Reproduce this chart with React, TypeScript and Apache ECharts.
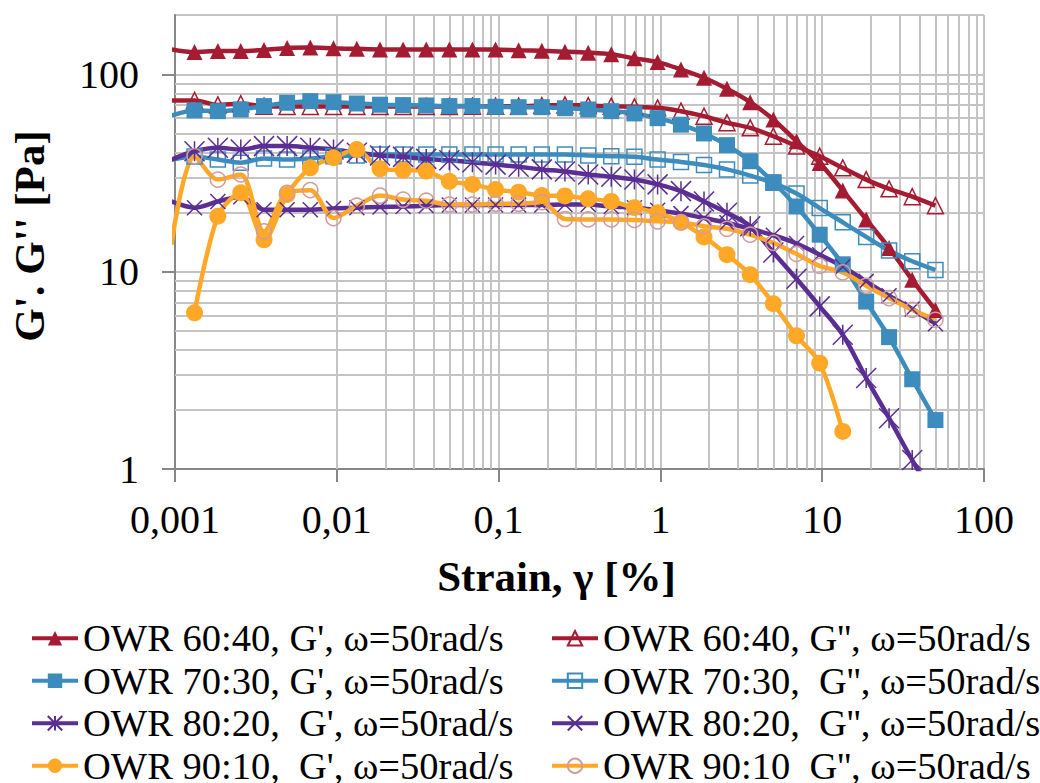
import React, { useEffect, useRef } from 'react';
import * as echarts from 'echarts';

// Strain [%] sampling points (first one lies just left of the axis minimum)
const strain = [0.00095, 0.00132, 0.00184, 0.00255, 0.00355, 0.00493, 0.00686, 0.00954, 0.0133, 0.0185, 0.0257, 0.0357, 0.0496, 0.0689, 0.0958, 0.133, 0.185, 0.257, 0.358, 0.497, 0.691, 0.961, 1.34, 1.86, 2.58, 3.59, 4.99, 6.94, 9.65, 13.4, 18.7, 25.9, 36.0, 50.1];

const g1_6040 = [134, 129.8, 131.3, 131.3, 132.9, 136, 136.7, 135.5, 134.7, 133.9, 133.9, 133.9, 133.9, 133.9, 133.9, 132.4, 131.6, 130.4, 128.9, 126.4, 120.6, 115.4, 106, 96.2, 84.5, 72.3, 59.1, 45.8, 35.6, 25.8, 18.4, 13.2, 9.1, 6.4];
const g2_6040 = [73.8, 73.8, 70, 71, 69, 68.8, 68.8, 68.8, 68.8, 68.8, 68.8, 68.8, 68.8, 69, 69, 69, 69.5, 70, 69.5, 69, 68.5, 67.7, 65.1, 61.4, 56.9, 53.6, 48.6, 43.3, 38.5, 33.6, 29.3, 26.3, 24, 21.6];
const g1_7030 = [61.9, 65.7, 65.1, 66.4, 69.1, 71.8, 73.2, 72.3, 71.2, 70.2, 69.9, 69.6, 69.1, 69.1, 68.5, 68.2, 68.2, 67.4, 66.4, 65.1, 63.4, 60, 55.6, 50.2, 43.8, 36.3, 28.4, 21.4, 15.4, 10.9, 7.06, 4.66, 2.85, 1.77];
const g2_7030 = [37, 38.4, 37, 35.7, 37.5, 37, 37.5, 38.5, 38.8, 39.3, 39.3, 39.3, 39.3, 39.3, 39.3, 39.3, 39.3, 39.3, 38.8, 38.5, 38.2, 37, 36, 34.7, 33, 30.7, 28.2, 24.9, 21, 17.8, 15, 12.8, 11.3, 10.2];
const g1_8020 = [37, 40.8, 42.5, 41.6, 43.3, 43.3, 42.5, 41.6, 40.1, 38.8, 38.2, 37.3, 36.7, 35.9, 34.9, 34, 33, 32.2, 31.1, 30.3, 29.3, 27.7, 25.6, 22.7, 19.9, 17, 12.5, 9.2, 6.67, 4.79, 2.89, 1.81, 1.11, 0.7];
const g2_8020 = [22.7, 21.1, 22.7, 24, 20.6, 20.6, 20.6, 20.9, 21.1, 21.3, 21.4, 21.6, 21.8, 21.8, 21.8, 21.8, 21.8, 21.9, 21.9, 21.4, 21.1, 20.5, 19.7, 18.7, 17.7, 16.5, 15.3, 13.9, 12.2, 10.6, 8.93, 7.55, 6.47, 5.45];
const g1_9010 = [null, 6.19, 19.1, 25.1, 14.5, 24.6, 33.6, 37.8, 41.6, 33.2, 32.7, 32.3, 28.7, 27.7, 26.1, 25.3, 24.3, 24.2, 23.4, 22.7, 21.1, 19.9, 17.8, 15, 12.2, 9.66, 6.88, 4.73, 3.44, 1.55, null, null, null, null];
const g2_9010 = [13.7, 38.5, 29.3, 31.1, 16, 25.1, 25.9, 18.7, 21.6, 24.3, 23.2, 22.9, 21.9, 21.9, 22.1, 22.1, 22.5, 18.5, 18.4, 18.4, 18.3, 18, 17.8, 17, 16.5, 15.4, 14, 12.3, 10.7, 9.92, 8.49, 7.35, 6.41, 5.71];

const seriesNames = [
  "OWR 60:40, G', ω=50rad/s",
  "OWR 60:40, G'', ω=50rad/s",
  "OWR 70:30, G', ω=50rad/s",
  "OWR 70:30,  G'', ω=50rad/s",
  "OWR 80:20,  G', ω=50rad/s",
  "OWR 80:20,  G'', ω=50rad/s",
  "OWR 90:10,  G', ω=50rad/s",
  "OWR 90:10  G'', ω=50rad/s",
];

const xTickLabels = ['0,001', '0,01', '0,1', '1', '10', '100'];
const yTickLabels = ['1', '10', '100'];
const xGridValues = [0.002, 0.003, 0.004, 0.005, 0.006, 0.007, 0.008, 0.009, 0.02, 0.03, 0.04, 0.05, 0.06, 0.07, 0.08, 0.09, 0.2, 0.3, 0.4, 0.5, 0.6, 0.7, 0.8, 0.9, 2, 3, 4, 5, 6, 7, 8, 9, 20, 30, 40, 50, 60, 70, 80, 90];
const yGridValues = [2, 3, 4, 5, 6, 7, 8, 9, 20, 30, 40, 50, 60, 70, 80, 90];

const RED = '#A51C32';
const BLUE = '#3C8DBE';
const PURPLE = '#5B2E94';
const ORANGE = '#FFA828';
const PINK = '#D49A9A';
const GRID = '#C4C4C4';
const AXIS = '#878787';
const FONT = "'Liberation Serif', 'Times New Roman', serif";

const ASTERISK = 'path://M0,0L20,20M20,0L0,20M10,0L10,20';
const CROSS = 'path://M0,0L20,20M20,0L0,20';

function pairs(ys: (number | null)[]) {
  const out: number[][] = [];
  ys.forEach((y, i) => {
    if (y !== null) out.push([strain[i], y]);
  });
  return out;
}

function mk(name: string, ys: (number | null)[], symbol: string, size: number, color: string, itemStyle: any) {
  return {
    name,
    type: 'line',
    data: pairs(ys),
    symbol,
    symbolSize: size,
    smooth: 0.3,
    clip: true,
    z: 3,
    lineStyle: { color, width: 4.5 },
    itemStyle,
    emphasis: { disabled: true },
  };
}

export default function App() {
  const ref = useRef<HTMLDivElement>(null);
  useEffect(() => {
    if (!ref.current) return;
    const chart = echarts.init(ref.current, undefined, { renderer: 'svg' });
    const series: any[] = [
      {
        type: 'line',
        data: [[1, 1]],
        symbol: 'none',
        lineStyle: { width: 0 },
        silent: true,
        z: 1,
        markLine: {
          silent: true,
          z: 1,
          symbol: 'none',
          label: { show: false },
          lineStyle: { color: GRID, width: 2, type: 'solid' },
          emphasis: { disabled: true },
          data: [
            ...xGridValues.map((v) => ({ xAxis: v })),
            ...yGridValues.map((v) => ({ yAxis: v })),
          ],
        },
      },
      mk(seriesNames[0], g1_6040, 'triangle', 16, RED, { color: RED }),
      mk(seriesNames[1], g2_6040, 'triangle', 16, RED, { color: 'rgba(255,255,255,0)', borderColor: RED, borderWidth: 1.5 }),
      mk(seriesNames[2], g1_7030, 'rect', 16, BLUE, { color: BLUE }),
      mk(seriesNames[3], g2_7030, 'rect', 15, BLUE, { color: 'rgba(255,255,255,0)', borderColor: BLUE, borderWidth: 1.5 }),
      mk(seriesNames[4], g1_8020, ASTERISK, 20, PURPLE, { color: PURPLE, borderColor: PURPLE, borderWidth: 1.5 }),
      mk(seriesNames[5], g2_8020, CROSS, 15, PURPLE, { color: PURPLE, borderColor: PURPLE, borderWidth: 1.5 }),
      mk(seriesNames[6], g1_9010, 'circle', 17, ORANGE, { color: ORANGE }),
      mk(seriesNames[7], g2_9010, 'circle', 15, ORANGE, { color: 'rgba(255,255,255,0)', borderColor: PINK, borderWidth: 1.5 }),
    ];
    const legendCommon = {
      orient: 'vertical',
      top: 617,
      height: 200,
      padding: 0,
      itemWidth: 46,
      itemHeight: 18,
      itemGap: 0,
      selectedMode: false,
      lineStyle: { width: 4 },
      textStyle: { fontFamily: FONT, fontSize: 38.5, color: '#000', lineHeight: 42.5 },
    };
    chart.setOption({
      animation: false,
      backgroundColor: '#fff',
      grid: { left: 171, right: 56, top: 15, bottom: 314 },
      legend: [
        { ...legendCommon, left: 30, data: [seriesNames[0], seriesNames[2], seriesNames[4], seriesNames[6]] },
        { ...legendCommon, left: 550, data: [seriesNames[1], seriesNames[3], seriesNames[5], seriesNames[7]] },
      ],
      xAxis: {
        type: 'log',
        logBase: 10,
        min: 0.001,
        max: 100,
        name: 'Strain, γ [%]',
        nameLocation: 'middle',
        nameGap: 86,
        nameTextStyle: { fontFamily: FONT, fontSize: 43, fontWeight: 'bold', color: '#000', padding: [0, 46, 0, 0] },
        axisLine: { onZero: false, lineStyle: { color: AXIS, width: 2 } },
        axisTick: { show: true, length: 13, lineStyle: { color: AXIS, width: 2 } },
        axisLabel: {
          fontFamily: FONT,
          fontSize: 40,
          color: '#000',
          margin: 30,
          formatter: (v: number) => xTickLabels[Math.round(Math.log10(v)) + 3] ?? '',
        },
        splitLine: { show: true, lineStyle: { color: GRID, width: 2 } },
      },
      yAxis: {
        type: 'log',
        logBase: 10,
        min: 1,
        max: 200,
        name: "G'. G'' [Pa]",
        nameLocation: 'middle',
        nameRotate: 90,
        nameGap: 124,
        nameTextStyle: { fontFamily: FONT, fontSize: 43, fontWeight: 'bold', color: '#000', padding: [0, 0, 0, 12] },
        axisLine: { onZero: false, lineStyle: { color: AXIS, width: 2 } },
        axisTick: { show: true, length: 13, lineStyle: { color: AXIS, width: 2 } },
        axisLabel: {
          fontFamily: FONT,
          fontSize: 40,
          color: '#000',
          margin: 36,
          showMaxLabel: false,
          formatter: (v: number) => {
            const e = Math.log10(v);
            if (Math.abs(e - Math.round(e)) > 1e-6) return '';
            return yTickLabels[Math.round(e)] ?? '';
          },
        },
        splitLine: { show: true, lineStyle: { color: GRID, width: 2 } },
      },
      series,
    });
    return () => chart.dispose();
  }, []);
  return <div ref={ref} style={{ width: 1040, height: 783, position: 'absolute', left: 0, top: 0 }} />;
}
